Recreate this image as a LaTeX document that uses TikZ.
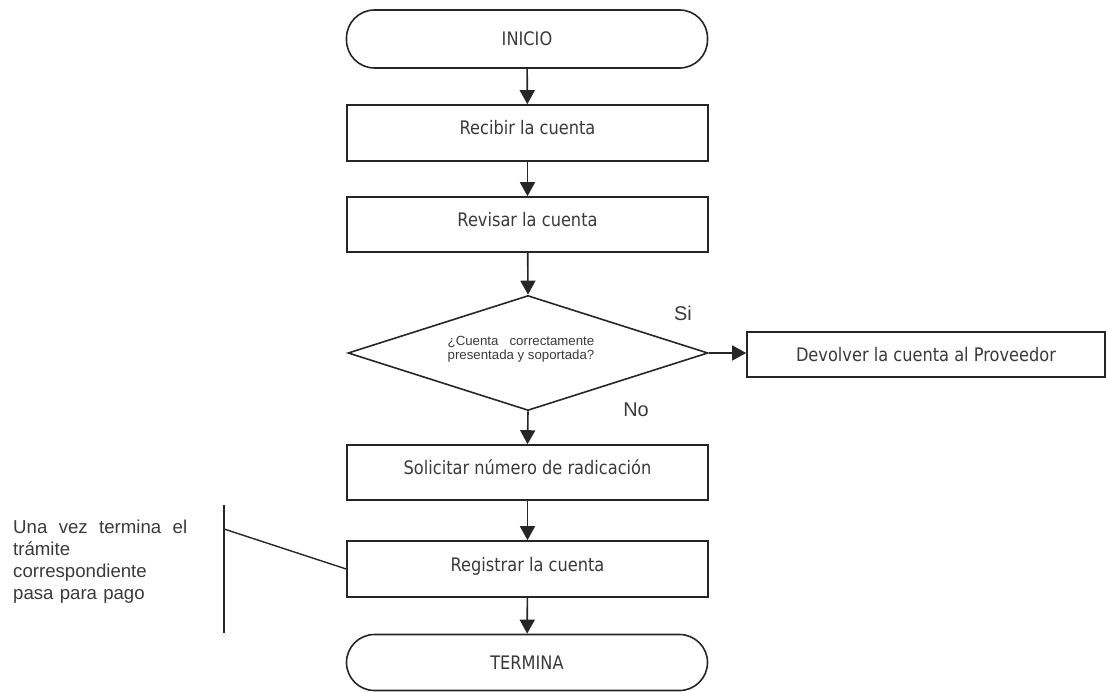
\documentclass[tikz,border=0pt]{standalone}
\usepackage{fontspec}
\setmainfont{Liberation Sans}
\newfontfamily\boxfont[FakeStretch=0.87]{DejaVu Sans}
\usetikzlibrary{shapes.geometric,arrows.meta}
\definecolor{ink}{HTML}{262626}
\definecolor{txt}{HTML}{3A3A3A}

\begin{document}
\begin{tikzpicture}[x=1bp,y=-1bp,
  stepbox/.style={draw=ink, line width=1.6bp, minimum width=361bp, inner sep=0pt,
    font=\boxfont\fontsize{18.7}{22}\selectfont, text=txt,
    text height=14bp, text depth=10bp},
  terminal/.style={stepbox, rounded corners=28bp, text depth=0bp},
  decision/.style={diamond, draw=ink, line width=1.6bp, minimum width=360bp,
    minimum height=115bp, inner sep=0pt},
  flow/.style={draw=ink, line width=1.6bp, -{Triangle[length=14bp,width=15bp]}},
  note/.style={draw=ink, line width=1.4bp},
  plain/.style={inner sep=0pt, text=txt, font=\fontsize{18.7}{22}\selectfont}]

\useasboundingbox (0,0) rectangle (1106,692);

% main column of steps
\node[terminal, minimum height=58bp] (inicio) at (527,39) {INICIO};
\node[stepbox, minimum height=56bp] (recibir) at (527.5,133) {Recibir la cuenta};
\node[stepbox, minimum height=55bp] (revisar) at (527.5,224.5) {Revisar la cuenta};
\node[decision] (dec) at (528,353) {};
\node[plain, font=\fontsize{13.3}{13.5}\selectfont] (dectext) at (521,350)
  {\begin{tabular}{@{}l@{}}¿Cuenta\hfill correctamente\\presentada y soportada?\end{tabular}};
\node[stepbox, minimum width=358bp, minimum height=45bp, text depth=0bp] (devolver) at (926,354.5)
  {Devolver la cuenta al Proveedor};
\node[stepbox, minimum height=55bp] (solicitar) at (527.5,472.5) {Solicitar número de radicación};
\node[stepbox, minimum height=56bp] (registrar) at (527.5,569) {Registrar la cuenta};
\node[terminal, minimum height=56bp] (termina) at (527,662.5) {TERMINA};

% branch labels
\node[plain, font=\fontsize{20}{22}\selectfont] (si) at (683,313) {Si};
\node[plain, font=\fontsize{20}{22}\selectfont] (no) at (636,410) {No};

% connectors
\draw[flow] (inicio) -- (recibir);
\draw[flow] (recibir) -- (revisar);
\draw[flow] (revisar) -- (dec.north);
\draw[flow] (dec.east) -- (dec.east -| devolver.west);
\draw[flow] (dec.south) -- (solicitar.north);
\draw[flow] (solicitar) -- (registrar);
\draw[flow] (registrar) -- (termina);

% side annotation
\coordinate (ntop) at (224,505);
\coordinate (nbot) at (224,633);
\coordinate (nmid) at (224,529);
\draw[note] (ntop) -- (nbot);
\draw[note] (nmid) -- (registrar.west);
\node[plain, anchor=north west, text width=174bp, align=left] (notetext) at (13,520)
  {Una\hfill vez\hfill termina\hfill el\\trámite\\correspondiente\\pasa para pago};
\end{tikzpicture}
\end{document}
